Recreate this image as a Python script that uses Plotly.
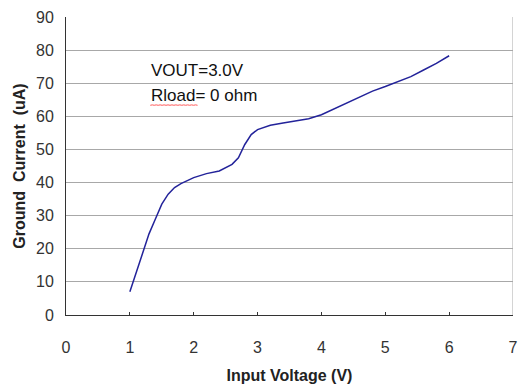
import plotly.graph_objects as go

input_voltage = [1.0, 1.1, 1.2, 1.3, 1.4, 1.5, 1.6, 1.7, 1.8, 1.9, 2.0, 2.2, 2.4, 2.6, 2.7, 2.8,
                 2.9, 3.0, 3.2, 3.4, 3.6, 3.8, 4.0, 4.2, 4.4, 4.6, 4.8, 5.0, 5.2, 5.4, 5.6, 5.8, 6.0]
ground_current = [7, 13, 19, 24.5, 29, 33.5, 36.5, 38.5, 39.7, 40.6, 41.5, 42.7, 43.5, 45.5, 47.5, 51.5,
                  54.5, 56, 57.3, 58, 58.7, 59.3, 60.5, 62.3, 64.2, 66, 67.6, 69, 70.5, 72, 74, 76, 78.3]
x_ticks = [0, 1, 2, 3, 4, 5, 6, 7]
y_ticks = [0, 10, 20, 30, 40, 50, 60, 70, 80, 90]

fig = go.Figure()
fig.add_trace(go.Scatter(x=input_voltage, y=ground_current, mode="lines",
                         line=dict(color="#23239a", width=1.5), showlegend=False))

# spell-check style red squiggle under "Rload" (decoration)
x0, x1, yb, amp, n = 1.32, 2.06, 63.4, 0.06, 24
pts = []
for i in range(n + 1):
    xx = x0 + (x1 - x0) * i / n
    yy = yb + (amp if i % 2 else -amp)
    pts.append(("M" if i == 0 else "L") + f"{xx:.4f},{yy:.4f}")
squiggle = " ".join(pts)

tick_font = dict(family="Liberation Sans", size=16, color="#333333")
title_font = dict(family="Liberation Sans", size=16, color="#222222", weight="bold")
fig.update_layout(
    width=527, height=392,
    margin=dict(l=66, r=9, t=12, b=77),
    paper_bgcolor="white", plot_bgcolor="white",
    xaxis=dict(range=[0, 7], tickvals=x_ticks, showgrid=False, zeroline=False,
               showline=True, linecolor="#333333", linewidth=1,
               ticks="inside", ticklen=3, tickcolor="#333333",
               tickfont=tick_font, ticklabelstandoff=18,
               title=dict(text="Input Voltage (V)", standoff=14, font=title_font)),
    yaxis=dict(range=[0, 90], tickvals=y_ticks, showgrid=True, gridcolor="#a8a8a8", gridwidth=1,
               zeroline=False, showline=True, linecolor="#333333", linewidth=1,
               ticks="", tickfont=tick_font, ticklabelstandoff=8,
               title=dict(text="Ground  Current  (uA)", standoff=6, font=title_font)),
    shapes=[dict(type="line", xref="x", yref="paper", x0=7, x1=7, y0=0, y1=1,
                 line=dict(color="#a8a8a8", width=1)),
            dict(type="path", xref="x", yref="y", path=squiggle,
                 line=dict(color="#ff5a5a", width=1))],
    annotations=[
        dict(text="VOUT=3.0V", x=1.3, y=73.7, xref="x", yref="y", xanchor="left", yanchor="middle",
             showarrow=False, font=dict(family="Liberation Sans", size=17, color="#111111")),
        dict(text="Rload= 0 ohm", x=1.3, y=66.2, xref="x", yref="y", xanchor="left", yanchor="middle",
             showarrow=False, font=dict(family="Liberation Sans", size=17, color="#111111")),
    ],
)

fig.write_html("out.html")
